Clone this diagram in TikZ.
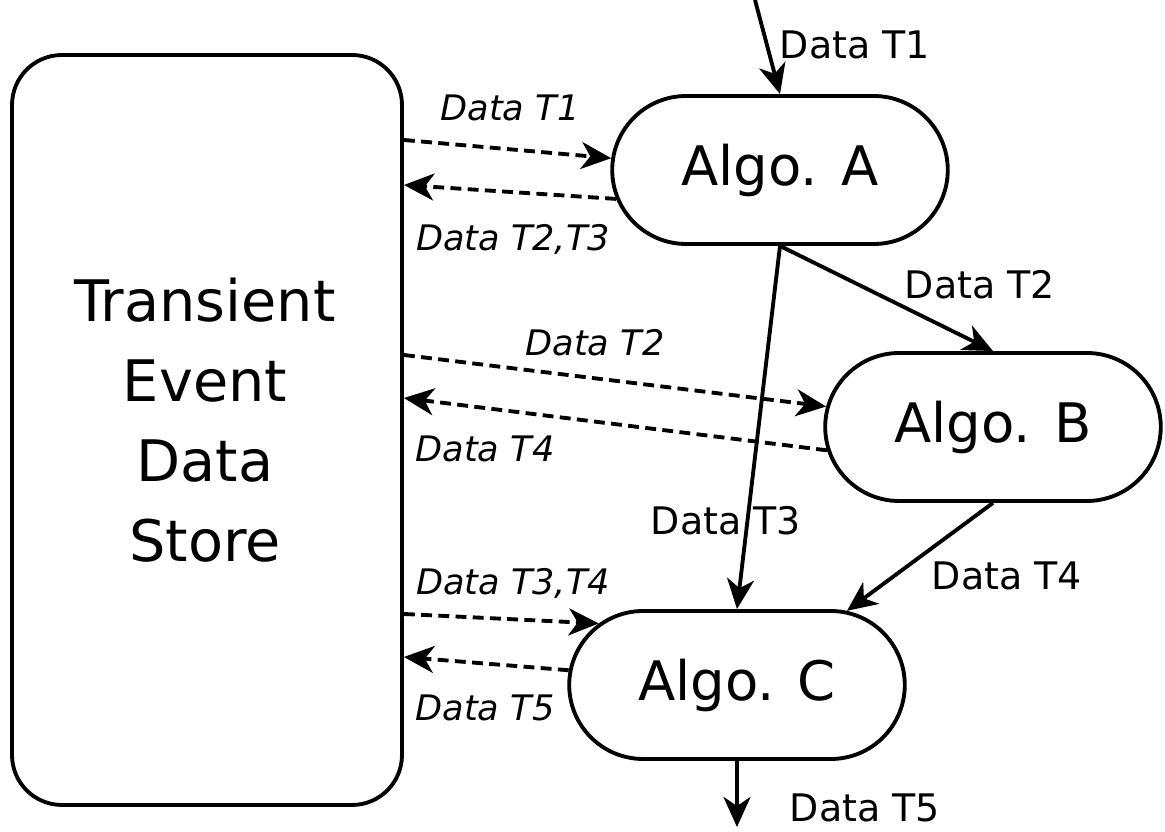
\documentclass[tikz,border=0pt]{standalone}
\usepackage{fontspec}
\setmainfont{DejaVu Sans}
\usepackage{tikz}
\usetikzlibrary{arrows.meta, shapes.misc}

\begin{document}
\begin{tikzpicture}[
        line width=1.1pt,
        algo/.style={draw, rounded rectangle, minimum width=3.59cm, minimum height=1.48cm, font=\fontsize{15.5}{18}\selectfont},
        flow/.style={-{Stealth[length=0.3cm, width=0.27cm, inset=0.09cm]}},
        transfer/.style={flow, dash pattern=on 3.1pt off 1.8pt},
        lbl/.style={inner sep=0pt, font=\fontsize{10.8}{13}\selectfont},
        ilbl/.style={inner sep=0pt, font=\fontsize{10}{12}\selectfont\itshape}
    ]
            \useasboundingbox (0,0) rectangle (11.65,-8.32);

            % Almacén
            \node[draw, rounded corners=0.5cm, minimum width=3.9cm, minimum height=7.5cm] (store) at (2.07,-4.30) {};
            \node[align=center, font=\fontsize{16.3}{22.8}\selectfont] (storeText) at (2.05,-4.20)
                  {Transient\\Event\\Data\\Store};

            % Algoritmos
            \node[algo] (algoA) at (7.80,-1.70) {Algo. A};
            \node[algo] (algoB) at (9.93,-4.27) {Algo. B};
            \node[algo] (algoC) at (7.37,-6.85) {Algo. C};

            % Entrada y salida
            \coordinate (inT1) at (7.55,0);
            \coordinate (outT5) at (7.37,-8.27);

            % Flechas
            \draw[flow] (inT1) -- (algoA.north);
            \draw[flow] (algoA.south) -- (algoB.north);
            \draw[flow] (algoA.south) -- (algoC.north);
            \draw[flow] (algoB.south) -- (algoC.34);
            \draw[flow] (algoC.south) -- (outT5);

            % Flechas discontinuas
            \draw[transfer] (store.east |- 0,-1.40) -- (algoA.176);
            \draw[transfer] (algoA.190) -- (store.east |- 0,-1.85);
            \draw[transfer] (store.east |- 0,-3.55) -- (algoB.173);
            \draw[transfer] (algoB.188) -- (store.east |- 0,-3.98);
            \draw[transfer] (store.east |- 0,-6.14) -- (algoC.156);
            \draw[transfer] (algoC.175) -- (store.east |- 0,-6.57);

            % Etiquetas
            \node[lbl] (lT1) at (8.55,-0.45) {Data T1};
            \node[lbl] (lT2) at (9.80,-2.85) {Data T2};
            \node[lbl] (lT3) at (7.26,-5.21) {Data T3};
            \node[lbl] (lT4) at (10.07,-5.76) {Data T4};
            \node[lbl] (lT5) at (8.65,-8.08) {Data T5};

            \node[ilbl] (iT1) at (5.10,-1.08) {Data T1};
            \node[ilbl] (iT23) at (5.13,-2.40) {Data T2,T3};
            \node[ilbl] (iT2) at (5.95,-3.43) {Data T2};
            \node[ilbl] (iT4) at (4.85,-4.49) {Data T4};
            \node[ilbl] (iT34) at (5.13,-5.84) {Data T3,T4};
            \node[ilbl] (iT5) at (4.85,-7.08) {Data T5};
        \end{tikzpicture}
\end{document}
